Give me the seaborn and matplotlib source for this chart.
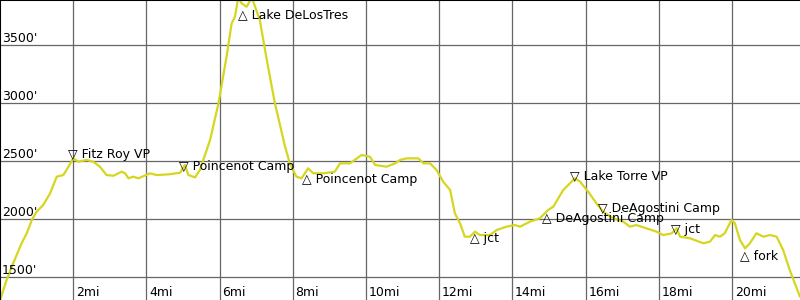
import matplotlib
matplotlib.use("Agg")
import matplotlib.pyplot as plt
import matplotlib.transforms as mtransforms
import seaborn as sns
import pandas as pd

# ---- data ----
miles = [0.0, 0.18, 0.36, 0.59, 0.73, 0.87, 1.0, 1.18, 1.37, 1.55, 1.73, 1.87,
         2.0, 2.14, 2.37, 2.55, 2.73, 2.91, 3.1, 3.32, 3.42, 3.51, 3.64, 3.78,
         4.1, 4.28, 4.6, 4.92, 5.05, 5.15, 5.33, 5.46, 5.74, 5.97, 6.19, 6.33,
         6.42, 6.51, 6.6, 6.74, 6.88, 6.97, 7.1, 7.29, 7.51, 7.79, 7.92, 8.1,
         8.24, 8.42, 8.56, 8.83, 9.15, 9.29, 9.56, 9.88, 10.11, 10.25, 10.56,
         10.8, 10.93, 11.11, 11.43, 11.57, 11.75, 11.93, 12.11, 12.3, 12.43,
         12.57, 12.7, 12.84, 12.98, 13.11, 13.39, 13.57, 13.84, 14.07, 14.21,
         14.48, 14.75, 14.98, 15.12, 15.39, 15.71, 15.85, 16.07, 16.3, 16.48,
         16.76, 17.03, 17.21, 17.39, 17.66, 17.94, 18.12, 18.35, 18.49, 18.58,
         18.85, 19.22, 19.4, 19.54, 19.67, 19.8, 19.99, 20.08, 20.22, 20.36,
         20.49, 20.67, 20.86, 21.04, 21.22, 21.4, 21.58, 21.86]
elevation = [1300, 1474, 1618, 1791, 1877, 1992, 2063, 2121, 2222, 2365, 2379, 2451,
             2523, 2494, 2509, 2494, 2451, 2379, 2373, 2408, 2394, 2351, 2365, 2351,
             2394, 2379, 2385, 2399, 2466, 2379, 2359, 2422, 2681, 2997, 3399, 3687,
             3744, 3910, 3860, 3830, 3910, 3830, 3715, 3371, 3000, 2623, 2480, 2365,
             2351, 2437, 2394, 2394, 2408, 2480, 2480, 2552, 2537, 2466, 2451,
             2480, 2509, 2523, 2523, 2480, 2480, 2422, 2322, 2250, 2049,
             1963, 1848, 1848, 1891, 1862, 1862, 1905, 1934, 1948, 1934,
             1977, 2006, 2078, 2107, 2250, 2351, 2322, 2236, 2135, 2063,
             2006, 1977, 1934, 1948, 1920, 1891, 1862, 1876, 1920, 1848,
             1834, 1791, 1805, 1862, 1848, 1876, 1992, 1963, 1819, 1747,
             1791, 1877, 1848, 1862, 1848, 1733, 1560, 1330]

wp_names = ["Fitz Roy VP", "Poincenot Camp", "Lake DeLosTres", "Poincenot Camp",
            "jct", "DeAgostini Camp", "Lake Torre VP", "DeAgostini Camp", "jct", "fork"]
wp_miles = [2.0, 5.04, 6.64, 8.40, 13.0, 14.96, 15.71, 16.48, 18.49, 20.37]
wp_elev = [2523, 2422, 3819, 2405, 1891, 2063, 2336, 2063, 1882, 1747]
wp_dir = ["down", "down", "up", "up", "up", "up", "down", "down", "down", "up"]

x_ticks = [2, 4, 6, 8, 10, 12, 14, 16, 18, 20]
x_tick_labels = ["2mi", "4mi", "6mi", "8mi", "10mi", "12mi", "14mi", "16mi", "18mi", "20mi"]
y_ticks = [1500, 2000, 2500, 3000, 3500]
y_tick_labels = ["1500'", "2000'", "2500'", "3000'", "3500'"]

# ---- plot ----
sns.set_style("white")
plt.rcParams["font.family"] = ["DejaVu Sans"]
plt.rcParams["text.color"] = "black"

fig = plt.figure(figsize=(8, 3), dpi=100)
ax = fig.add_axes([0, 0, 1, 1])

df = pd.DataFrame({"mile": miles, "elev": elevation})
sns.lineplot(data=df, x="mile", y="elev", ax=ax, color="#d6d61e", linewidth=1.6)

ax.set_xlim(0, 21.86)
ax.set_ylim(1302, 3888)
ax.set_xticks(x_ticks)
ax.set_yticks(y_ticks)
ax.set_xticklabels([])
ax.set_yticklabels([])
ax.tick_params(length=0)
ax.grid(True, color="#666666", linewidth=0.9)
ax.set_axisbelow(True)
ax.set_xlabel("")
ax.set_ylabel("")

for side in ["right", "bottom"]:
    ax.spines[side].set_visible(False)
for side in ["top", "left"]:
    ax.spines[side].set_color("black")
    ax.spines[side].set_linewidth(1.5)

fs = 9
# y labels: inside, above the gridline
ytrans = mtransforms.blended_transform_factory(ax.transAxes, ax.transData)
for v, lab in zip(y_ticks, y_tick_labels):
    ax.annotate(lab, xy=(0, v), xycoords=ytrans, xytext=(1.5, 2.5),
                textcoords="offset points", ha="left", va="baseline",
                fontsize=fs, color="black")
# x labels: right of gridline at bottom
xtrans = mtransforms.blended_transform_factory(ax.transData, ax.transAxes)
for v, lab in zip(x_ticks, x_tick_labels):
    ax.annotate(lab, xy=(v, 0), xycoords=xtrans, xytext=(2, 3),
                textcoords="offset points", ha="left", va="baseline",
                fontsize=fs, color="black")

# waypoints
for name, m, e, d in zip(wp_names, wp_miles, wp_elev, wp_dir):
    if d == "down":
        ax.annotate("\u25bd " + name, xy=(m, e), xytext=(-3.8, 0),
                    textcoords="offset points", ha="left", va="baseline",
                    fontsize=fs, color="black")
    else:
        ax.annotate("\u25b3 " + name, xy=(m, e), xytext=(-3.8, -7.6),
                    textcoords="offset points", ha="left", va="baseline",
                    fontsize=fs, color="black")

fig.savefig("out.png", dpi=100)
